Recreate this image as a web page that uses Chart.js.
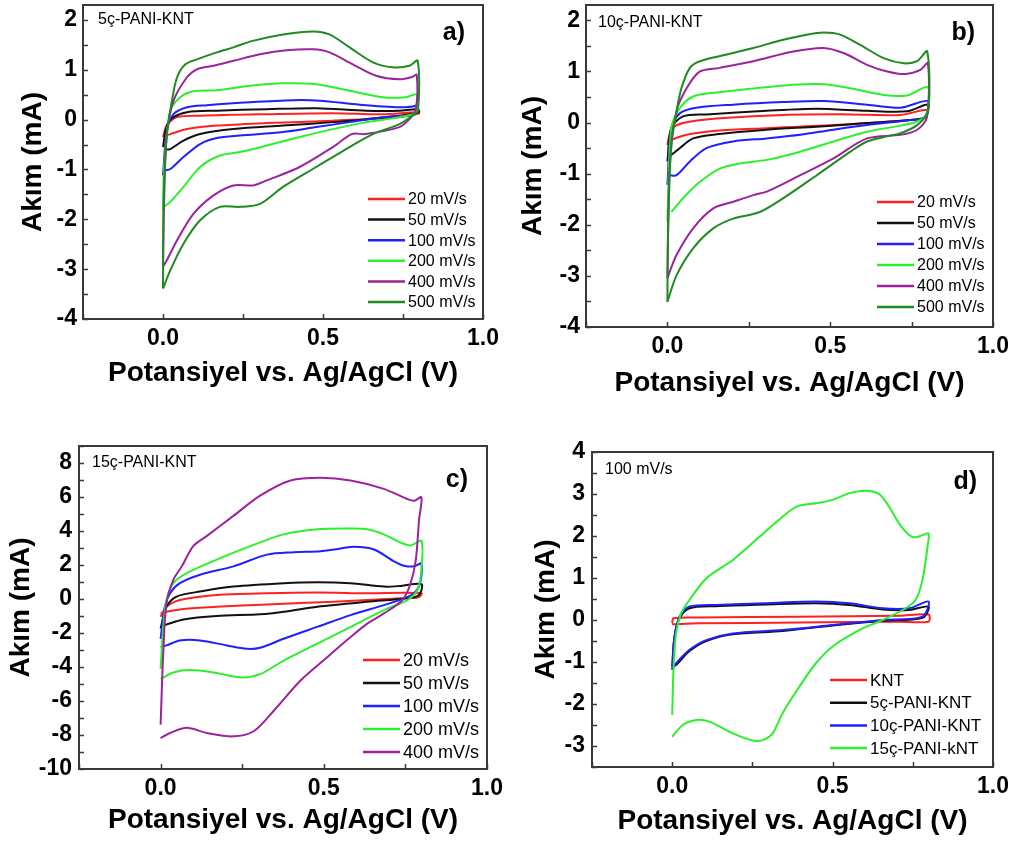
<!DOCTYPE html>
<html>
<head>
<meta charset="utf-8">
<script src="https://cdn.jsdelivr.net/npm/chart.js@4.4.1/dist/chart.umd.min.js"></script>
<style>
  body { margin: 0; background: #fff; width: 1015px; height: 845px; position: relative; overflow: hidden; }
  canvas { position: absolute; }
</style>
</head>
<body>
<canvas id="pa" width="500" height="410" style="left:0;top:0"></canvas>
<canvas id="pb" width="515" height="410" style="left:500px;top:0"></canvas>
<canvas id="pd" width="515" height="425" style="left:500px;top:420px"></canvas>
<canvas id="pc" width="515" height="425" style="left:0;top:420px"></canvas>
<script>
// labels
const speedLabels = ['20 mV/s', '50 mV/s', '100 mV/s', '200 mV/s', '400 mV/s', '500 mV/s'];
const sampleLabels = ['KNT', '5ç-PANI-KNT', '10ç-PANI-KNT', '15ç-PANI-kNT'];
const xTitle = 'Potansiyel vs. Ag/AgCl (V)';
const yTitle = 'Akım (mA)';

// [potential V, current mA], forward scan then reverse scan
const a20 = [[0,-0.35],[0.012,-0.12],[0.044,0.05],[0.116,0.08],[0.324,0.11],[0.531,0.13],[0.687,0.11],[0.796,0.15],[0.8,0.12],[0.739,0.05],[0.531,-0.02],[0.324,-0.07],[0.168,-0.12],[0.075,-0.19],[0.023,-0.29],[0.005,-0.32]];
const a50 = [[0,-0.55],[0.012,-0.12],[0.033,0.05],[0.075,0.15],[0.168,0.18],[0.324,0.21],[0.479,0.23],[0.635,0.18],[0.739,0.18],[0.796,0.21],[0.8,0.15],[0.739,0.08],[0.635,0.01],[0.531,-0.05],[0.375,-0.12],[0.22,-0.19],[0.116,-0.29],[0.064,-0.42],[0.023,-0.59],[0.007,-0.6]];
const a100 = [[0,-1.12],[0.012,-0.22],[0.033,0.11],[0.075,0.25],[0.137,0.29],[0.272,0.35],[0.407,0.39],[0.49,0.38],[0.614,0.3],[0.739,0.25],[0.79,0.28],[0.796,0.35],[0.79,0.12],[0.76,0.08],[0.687,0.05],[0.583,-0.05],[0.479,-0.15],[0.375,-0.25],[0.24,-0.32],[0.168,-0.37],[0.116,-0.49],[0.064,-0.75],[0.023,-0.99],[0.007,-1.02]];
const a200 = [[0,-1.82],[0.004,-0.9],[0.023,0.18],[0.054,0.45],[0.095,0.57],[0.168,0.59],[0.272,0.68],[0.375,0.73],[0.479,0.71],[0.583,0.58],[0.687,0.45],[0.759,0.45],[0.793,0.5],[0.79,0.15],[0.739,0.05],[0.635,-0.05],[0.531,-0.19],[0.427,-0.35],[0.324,-0.52],[0.24,-0.65],[0.178,-0.72],[0.116,-0.95],[0.064,-1.35],[0.023,-1.65],[0.002,-1.75]];
const a400 = [[0,-2.95],[0.004,-1.5],[0.012,-0.3],[0.033,0.38],[0.075,0.85],[0.106,1.01],[0.158,1.08],[0.22,1.18],[0.303,1.31],[0.386,1.39],[0.469,1.41],[0.52,1.35],[0.593,1.11],[0.666,0.88],[0.739,0.81],[0.78,0.86],[0.793,0.9],[0.79,0.2],[0.77,0.01],[0.739,-0.15],[0.633,-0.29],[0.59,-0.29],[0.531,-0.55],[0.427,-0.95],[0.324,-1.22],[0.282,-1.32],[0.22,-1.32],[0.158,-1.52],[0.095,-1.89],[0.044,-2.42],[0.012,-2.82],[0,-2.95]];
const a500 = [[0,-3.39],[0.002,-1.62],[0.012,-0.29],[0.028,0.38],[0.044,0.85],[0.07,1.11],[0.106,1.21],[0.168,1.35],[0.22,1.45],[0.28,1.58],[0.375,1.71],[0.469,1.77],[0.52,1.71],[0.583,1.45],[0.656,1.15],[0.718,1.05],[0.77,1.08],[0.796,1.18],[0.797,0.18],[0.78,0.08],[0.739,-0.09],[0.656,-0.29],[0.583,-0.55],[0.479,-0.95],[0.375,-1.35],[0.303,-1.69],[0.24,-1.75],[0.178,-1.75],[0.116,-2.02],[0.064,-2.49],[0.023,-3.02],[0,-3.39]];

const b20 = [[0,-0.44],[0.012,-0.14],[0.048,-0.01],[0.151,0.08],[0.356,0.15],[0.562,0.16],[0.716,0.15],[0.8,0.25],[0.79,0.1],[0.746,0.05],[0.51,-0.05],[0.305,-0.11],[0.151,-0.16],[0.059,-0.24],[0.012,-0.34],[0.003,-0.38]];
const b50 = [[0,-0.76],[0.012,-0.11],[0.048,0.12],[0.12,0.16],[0.305,0.23],[0.459,0.27],[0.613,0.23],[0.736,0.22],[0.8,0.35],[0.79,0.1],[0.746,0.05],[0.613,-0.01],[0.459,-0.08],[0.305,-0.14],[0.151,-0.23],[0.079,-0.31],[0.038,-0.5],[0.012,-0.63],[0.003,-0.6]];
const b100 = [[0,-1.22],[0.012,-0.11],[0.038,0.18],[0.089,0.29],[0.202,0.35],[0.356,0.4],[0.48,0.42],[0.613,0.35],[0.716,0.29],[0.8,0.42],[0.79,0.1],[0.746,0.05],[0.613,-0.05],[0.51,-0.14],[0.408,-0.24],[0.305,-0.31],[0.202,-0.37],[0.12,-0.5],[0.069,-0.76],[0.028,-1.03],[0.007,-1.03]];
const b200 = [[0,-1.94],[0.012,-0.11],[0.038,0.28],[0.079,0.51],[0.151,0.59],[0.254,0.66],[0.387,0.74],[0.48,0.75],[0.562,0.67],[0.664,0.54],[0.736,0.53],[0.8,0.69],[0.795,0.15],[0.767,0.02],[0.716,-0.06],[0.613,-0.18],[0.51,-0.37],[0.408,-0.57],[0.305,-0.73],[0.223,-0.8],[0.161,-0.9],[0.1,-1.16],[0.048,-1.48],[0.012,-1.75]];
const b400 = [[0,-3.05],[0.007,-0.9],[0.028,0.22],[0.059,0.67],[0.1,1.0],[0.161,1.07],[0.264,1.2],[0.387,1.39],[0.48,1.46],[0.541,1.36],[0.613,1.13],[0.675,1.0],[0.731,0.95],[0.777,1.03],[0.8,1.16],[0.797,0.1],[0.767,-0.14],[0.716,-0.24],[0.613,-0.31],[0.51,-0.7],[0.408,-1.03],[0.305,-1.35],[0.264,-1.42],[0.202,-1.55],[0.141,-1.68],[0.079,-2.07],[0.028,-2.59],[0.007,-2.92],[0,-3.05]];
const b500 = [[0,-3.51],[0.002,-2.2],[0.012,-0.37],[0.028,0.22],[0.043,0.67],[0.069,1.07],[0.1,1.2],[0.182,1.33],[0.264,1.46],[0.356,1.62],[0.428,1.72],[0.48,1.76],[0.53,1.72],[0.592,1.52],[0.664,1.26],[0.726,1.16],[0.767,1.2],[0.798,1.39],[0.8,0.22],[0.767,-0.05],[0.716,-0.21],[0.675,-0.27],[0.613,-0.37],[0.562,-0.57],[0.459,-1.03],[0.356,-1.48],[0.284,-1.75],[0.202,-1.88],[0.141,-2.07],[0.079,-2.46],[0.028,-2.99],[0,-3.51]];

const c20 = [[0,-1.05],[0.018,-0.46],[0.059,-0.06],[0.172,0.24],[0.326,0.34],[0.48,0.38],[0.633,0.34],[0.799,0.34],[0.79,0.1],[0.736,0.04],[0.531,-0.16],[0.326,-0.32],[0.172,-0.46],[0.07,-0.59],[0.018,-0.75],[0,-0.85]];
const c50 = [[0,-1.74],[0.018,-0.46],[0.049,0.14],[0.121,0.44],[0.223,0.73],[0.377,0.93],[0.48,0.99],[0.582,0.93],[0.684,0.73],[0.736,0.77],[0.799,0.87],[0.792,0.24],[0.756,0.04],[0.633,-0.16],[0.48,-0.45],[0.377,-0.75],[0.305,-0.9],[0.172,-1.0],[0.07,-1.2],[0.018,-1.5],[0,-1.6]];
const c100 = [[0,-2.34],[0.013,-0.46],[0.029,0.34],[0.059,0.93],[0.121,1.43],[0.223,1.92],[0.326,2.61],[0.408,2.75],[0.49,2.81],[0.531,2.91],[0.592,3.07],[0.654,2.91],[0.715,2.22],[0.746,1.96],[0.777,1.92],[0.799,2.08],[0.795,0.93],[0.777,0.34],[0.746,0.04],[0.684,-0.36],[0.582,-0.95],[0.48,-1.64],[0.377,-2.34],[0.305,-2.87],[0.264,-2.93],[0.203,-2.73],[0.121,-2.44],[0.059,-2.44],[0.018,-2.73],[0,-2.83]];
const c200 = [[0,-4.12],[0.008,-1.64],[0.018,-0.06],[0.039,0.93],[0.08,1.52],[0.172,2.32],[0.275,3.11],[0.377,3.8],[0.48,4.1],[0.582,4.14],[0.633,4.1],[0.684,3.8],[0.736,3.31],[0.766,3.15],[0.799,3.41],[0.799,1.72],[0.787,0.53],[0.756,-0.06],[0.684,-0.65],[0.582,-1.64],[0.48,-2.63],[0.377,-3.62],[0.305,-4.42],[0.244,-4.61],[0.162,-4.32],[0.09,-4.18],[0.039,-4.32],[0,-4.71]];
const c400 = [[0,-7.39],[0.008,-3.23],[0.018,-0.26],[0.039,1.13],[0.065,1.92],[0.1,3.11],[0.141,3.7],[0.223,4.89],[0.305,6.08],[0.398,6.97],[0.49,7.13],[0.582,6.97],[0.684,6.48],[0.756,5.88],[0.777,5.78],[0.799,5.98],[0.792,4.69],[0.782,2.32],[0.766,0.93],[0.741,-0.06],[0.684,-0.85],[0.633,-1.45],[0.582,-2.24],[0.51,-3.43],[0.428,-4.81],[0.346,-6.59],[0.285,-7.78],[0.223,-8.08],[0.141,-7.88],[0.08,-7.58],[0.029,-7.88],[0,-8.18]];

const dKNT = [[0,-0.08],[0.004,0.04],[0.085,0.06],[0.396,0.08],[0.707,0.1],[0.799,0.13],[0.799,-0.04],[0.707,-0.04],[0.396,-0.06],[0.085,-0.08],[0,-0.1]];
const d5 = [[0,-1.11],[0.007,-0.4],[0.023,0.04],[0.054,0.28],[0.137,0.33],[0.293,0.37],[0.448,0.4],[0.552,0.36],[0.656,0.25],[0.739,0.24],[0.799,0.32],[0.78,0.05],[0.656,-0.02],[0.5,-0.13],[0.344,-0.26],[0.189,-0.34],[0.106,-0.5],[0.054,-0.74],[0.012,-1.07],[0,-1.11]];
const d10 = [[0,-1.19],[0.007,-0.4],[0.023,0.08],[0.054,0.32],[0.137,0.36],[0.293,0.4],[0.448,0.44],[0.552,0.4],[0.656,0.28],[0.739,0.28],[0.799,0.44],[0.78,0.08],[0.656,0],[0.5,-0.12],[0.344,-0.24],[0.189,-0.32],[0.106,-0.48],[0.054,-0.71],[0.012,-1.03],[0.002,-1.15]];
const d15 = [[0,-2.26],[0.004,-1.19],[0.012,-0.32],[0.028,0.16],[0.054,0.48],[0.106,0.99],[0.189,1.43],[0.272,1.98],[0.344,2.46],[0.391,2.71],[0.448,2.78],[0.5,2.86],[0.552,3.02],[0.604,3.08],[0.645,3.0],[0.676,2.7],[0.707,2.3],[0.739,2.02],[0.759,1.97],[0.78,2.02],[0.799,2.06],[0.796,1.75],[0.78,0.95],[0.759,0.48],[0.728,0.28],[0.656,0],[0.583,-0.24],[0.5,-0.63],[0.448,-1.03],[0.396,-1.59],[0.344,-2.22],[0.313,-2.7],[0.282,-2.86],[0.251,-2.87],[0.189,-2.7],[0.116,-2.42],[0.075,-2.38],[0.033,-2.5],[0,-2.78]];

const speedColors = ['#ff2020', '#111111', '#1f1fff', '#2cf02c', '#9b239b', '#1f8a1f'];
const sampleColors = ['#ff2020', '#111111', '#1f1fff', '#2cf02c'];
const FONT = "'Liberation Sans', Arial, sans-serif";

const panels = [
  { id: 'pa', tag: 'a)', note: '5ç-PANI-KNT', series: [a20, a50, a100, a200, a400, a500], labels: speedLabels, colors: speedColors,
    yMin: -4, yMax: 2.3, yStep: 0.5, yEvery: 1, pad: { left: 16, right: 17, top: 5, bottom: 20 }, yw: 67, xh: 71, yPad: 6,
    legend: { x: 285, y: 194, dy: 20.6, size: 16 }, tagAt: [18, 28], noteAt: [15, 15] },
  { id: 'pb', tag: 'b)', note: '10ç-PANI-KNT', series: [b20, b50, b100, b200, b400, b500], labels: speedLabels, colors: speedColors,
    yMin: -4, yMax: 2.3, yStep: 0.5, yEvery: 1, pad: { left: 16, right: 22, top: 5, bottom: 10 }, yw: 70, xh: 73, yPad: 6,
    legend: { x: 291, y: 197, dy: 21, size: 16 }, tagAt: [18, 28], noteAt: [12, 18] },
  { id: 'pc', tag: 'c)', note: '15ç-PANI-KNT', series: [c20, c50, c100, c200, c400], labels: speedLabels.slice(0, 5), colors: speedColors,
    yMin: -10, yMax: 9, yStep: 1, yEvery: 2, pad: { left: 4, right: 28, top: 26, bottom: 8 }, yw: 75, xh: 68, yPad: 7,
    legend: { x: 284, y: 214, dy: 23, size: 18 }, tagAt: [19, 34], noteAt: [13, 17] },
  { id: 'pd', tag: 'd)', note: '100 mV/s', series: [dKNT, d5, d10, d15], labels: sampleLabels, colors: sampleColors,
    yMin: -3.5, yMax: 4, yStep: 0.5, yEvery: 1, pad: { left: 29, right: 22, top: 32, bottom: 7 }, yw: 63, xh: 71, yPad: 7,
    legend: { x: 238, y: 228, dy: 22.7, size: 17 }, tagAt: [16, 30], noteAt: [13, 18] }
];

function isMult(v, m) {
  return Math.abs(v / m - Math.round(v / m)) < 1e-6;
}

function fixScale(s, w, h) {
  if (w) s.width = w;
  if (h) s.height = h;
  s.paddingTop = 0; s.paddingBottom = 0; s.paddingLeft = 0; s.paddingRight = 0;
}

// box frame, inward ticks, in-plot texts and legend
const decor = {
  id: 'decor',
  afterDraw(chart, args, o) {
    const { ctx, chartArea: a, scales: { x, y } } = chart;
    ctx.save();
    ctx.strokeStyle = '#3a3a3a';
    ctx.lineWidth = 1.5;
    ctx.beginPath();
    x.ticks.forEach(t => {
      const px = Math.round(x.getPixelForValue(t.value)) + 0.5;
      ctx.moveTo(px, a.bottom); ctx.lineTo(px, a.bottom - 5);
    });
    y.ticks.forEach(t => {
      const py = Math.round(y.getPixelForValue(t.value)) + 0.5;
      ctx.moveTo(a.left, py); ctx.lineTo(a.left + 5, py);
    });
    ctx.stroke();
    ctx.lineWidth = 2;
    ctx.strokeRect(a.left, a.top, a.right - a.left, a.bottom - a.top);

    ctx.fillStyle = '#000';
    ctx.textBaseline = 'middle';
    ctx.font = 'bold 25px ' + FONT;
    ctx.textAlign = 'right';
    ctx.fillText(o.tag, a.right - o.tagAt[0], a.top + o.tagAt[1]);
    ctx.font = '16px ' + FONT;
    ctx.textAlign = 'left';
    ctx.fillText(o.note, a.left + o.noteAt[0], a.top + o.noteAt[1]);

    const L = o.legend;
    ctx.font = L.size + 'px ' + FONT;
    chart.data.datasets.forEach((ds, i) => {
      const ly = a.top + L.y + i * L.dy;
      ctx.strokeStyle = ds.borderColor;
      ctx.lineWidth = 2.5;
      ctx.beginPath();
      ctx.moveTo(a.left + L.x, ly); ctx.lineTo(a.left + L.x + 37, ly);
      ctx.stroke();
      ctx.fillText(ds.label, a.left + L.x + 40, ly + 1);
    });
    ctx.restore();
  }
};

panels.forEach(p => {
  const datasets = p.series.map((s, i) => ({
    label: p.labels[i],
    data: s.map(([vx, vy]) => ({ x: vx, y: vy })),
    borderColor: p.colors[i],
    borderWidth: 2,
    pointRadius: 0,
    showLine: true,
    fill: false,
    tension: 0.3,
    order: -i
  }));
  new Chart(document.getElementById(p.id), {
    type: 'scatter',
    data: { datasets },
    options: {
      responsive: false,
      animation: false,
      layout: { padding: p.pad },
      plugins: {
        legend: { display: false },
        tooltip: { enabled: false },
        decor: p
      },
      scales: {
        x: {
          type: 'linear', min: -0.25, max: 1.0,
          border: { display: false },
          grid: { display: false, drawTicks: false },
          ticks: {
            stepSize: 0.25, autoSkip: false, maxRotation: 0, padding: 6, color: '#000',
            font: { family: FONT, size: 23, weight: 'bold' },
            callback: v => (v >= 0 && isMult(v, 0.5)) ? v.toFixed(1) : ''
          },
          title: { display: true, text: xTitle, color: '#000', padding: 0,
                   font: { family: FONT, size: 28, weight: 'bold' } },
          afterFit: s => fixScale(s, 0, p.xh)
        },
        y: {
          min: p.yMin, max: p.yMax,
          border: { display: false },
          grid: { display: false, drawTicks: false },
          ticks: {
            stepSize: p.yStep, includeBounds: false, autoSkip: false, padding: p.yPad, color: '#000',
            font: { family: FONT, size: 23, weight: 'bold' },
            callback: v => isMult(v, p.yEvery) ? String(Math.round(v)) : ''
          },
          title: { display: true, text: yTitle, color: '#000', padding: 0,
                   font: { family: FONT, size: 28, weight: 'bold' } },
          afterFit: s => fixScale(s, p.yw, 0)
        }
      }
    },
    plugins: [decor]
  });
});
</script>
</body>
</html>
